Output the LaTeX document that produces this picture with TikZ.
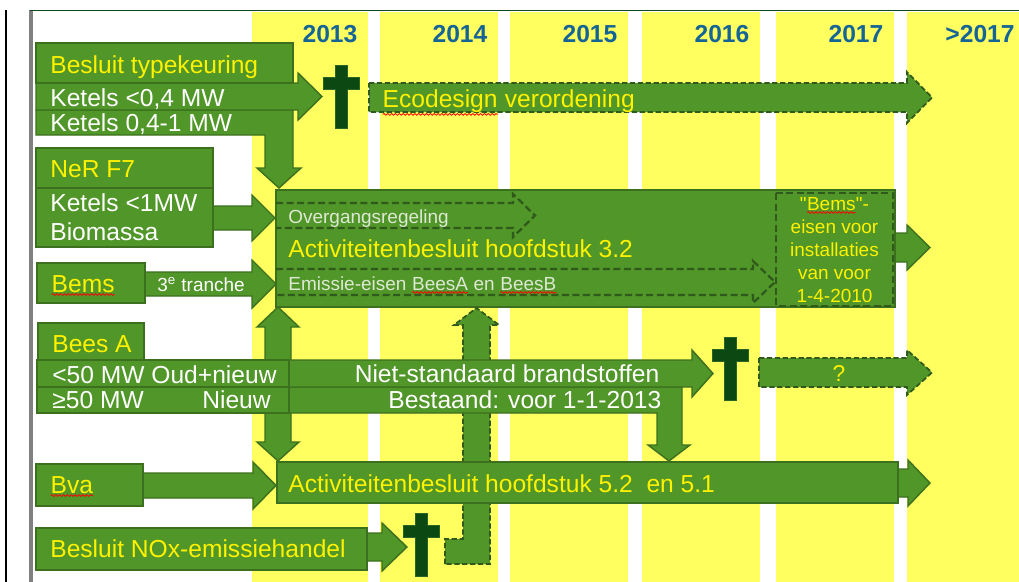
\documentclass[tikz,border=0pt]{standalone}
\usepackage{fontspec}
\setmainfont{Liberation Sans}
\usetikzlibrary{decorations.pathmorphing}

\definecolor{barGreen}{RGB}{80,150,40}
\definecolor{edgeGreen}{RGB}{60,112,30}
\definecolor{dashGreen}{RGB}{48,90,28}
\definecolor{crossGreen}{RGB}{12,72,18}
\definecolor{crossEdge}{RGB}{40,100,40}
\definecolor{colYellow}{RGB}{255,255,95}
\definecolor{yearBlue}{RGB}{20,100,150}
\definecolor{paleText}{RGB}{222,232,212}
\definecolor{frameGreen}{RGB}{20,70,30}

\tikzset{
	bar/.style={fill=barGreen, draw=edgeGreen, line width=0.8pt},
	dashbar/.style={fill=barGreen, draw=dashGreen, line width=1pt, dash pattern=on 3pt off 1.5pt},
	dashline/.style={draw=dashGreen, line width=1.3pt, dash pattern=on 4pt off 2pt},
	crossbar/.style={fill=crossGreen, draw=crossEdge, line width=0.5pt},
	txt/.style={anchor=base west, inner sep=0pt, font=\fontsize{14}{16}\selectfont},
	small/.style={anchor=base west, inner sep=0pt, font=\fontsize{10.8}{13}\selectfont},
	year/.style={anchor=base, inner sep=0pt, text=yearBlue, font=\fontsize{14}{16}\selectfont\bfseries},
	ylw/.style={text=yellow}, wht/.style={text=white}
}

% block arrows: [style]{x0}{ytop}{ybottom}{head base}{tip}{overhang}
\newcommand{\arrR}[7][bar]{\draw[#1] (#2,#3) -- (#5,#3) -- (#5,#3-#7) -- (#6,{(#3+#4)/2}) -- (#5,#4+#7) -- (#5,#4) -- (#2,#4) -- cycle;}
\newcommand{\arrOpen}[6]{\draw[dashline] (#1,#2) -- (#4,#2) -- (#4,#2-#6) -- (#5,{(#2+#3)/2}) -- (#4,#3+#6) -- (#4,#3) -- (#1,#3);}
\newcommand{\deadcross}[2]{\draw[crossbar] (#1-6,#2) -- (#1+6,#2) -- (#1+6,#2+12) -- (#1+18,#2+12) -- (#1+18,#2+24) -- (#1+6,#2+24) -- (#1+6,#2+63) -- (#1-6,#2+63) -- (#1-6,#2+24) -- (#1-18,#2+24) -- (#1-18,#2+12) -- (#1-6,#2+12) -- cycle;}
\newcommand{\spellerr}[1]{\tikz[baseline=(sw.base)]{\node[inner sep=0pt,outer sep=0pt](sw){#1};\draw[red,line width=0.45pt,decorate,decoration={snake,amplitude=0.5pt,segment length=2.2pt}]([yshift=-1.3pt]sw.south west)--([yshift=-1.3pt]sw.south east);}}

\begin{document}
\begin{tikzpicture}[x=0.02cm,y=-0.02cm]

	\useasboundingbox (0,0) rectangle (1019,582);
	\fill[white] (0,0) rectangle (1019,582);
	\foreach \a/\b in {252/368,380/498,510/628,642/760,776/894,907/1019}
		\fill[colYellow] (\a,12) rectangle (\b,582);
	\draw[black, line width=1.2pt] (6,10) -- (6,582);
	\draw[gray, line width=1.8pt] (31,10) -- (31,582);
	\draw[frameGreen, line width=0.8pt] (30,10.5) -- (1019,10.5);

	\node[year] (y13) at (330,42) {2013};
	\node[year] (y14) at (460,42) {2014};
	\node[year] (y15) at (590,42) {2015};
	\node[year] (y16) at (722,42) {2016};
	\node[year] (y17) at (856,42) {2017};
	\node[year] (y18) at (980,42) {>2017};

	% typekeuring
	\draw[bar] (36,110) -- (293,110) -- (293,168) -- (301,168) -- (279,188) -- (257,168) -- (265,168) -- (265,135) -- (36,135) -- cycle;
	\arrR{36}{83}{110}{298}{322}{10}
	\draw[bar] (36,43) rectangle (293,83);
	\node[txt,ylw] (tk) at (50,73) {Besluit typekeuring};
	\node[txt,wht] (k1) at (50,106) {Ketels <0,4 MW};
	\node[txt,wht] (k2) at (50,131) {Ketels 0,4-1 MW};
	\deadcross{341}{65}

	\arrR[dashbar]{369}{83}{112}{907}{932}{11}
	\node[txt,ylw] (eco) at (382,107) {\spellerr{Ecodesign} verordening};

	% hoofdstuk 3.2
	\arrR{880}{233}{262}{907}{930}{8}
	\draw[bar] (276,190) rectangle (895,307);
	\arrOpen{276}{203}{228}{513}{535}{9}
	\arrOpen{276}{269}{295}{753}{775}{8}
	\draw[dashline] (776,193) rectangle (893,306);
	\node[small,text=paleText] (ovg) at (288,223) {Overgangsregeling};
	\node[txt,ylw] (ab32) at (288,257) {Activiteitenbesluit hoofdstuk 3.2};
	\node[small,text=paleText] (em) at (288,290) {Emissie-eisen \spellerr{BeesA} en \spellerr{BeesB}};
	\foreach \ln [count=\i from 0] in {{\textquotedbl\spellerr{Bems}\textquotedbl-},eisen voor,installaties,van voor,1-4-2010}
		\node[small,anchor=base,ylw] (be\i) at (834.5,210+23*\i) {\ln};

	% NeR F7
	\arrR{200}{206}{230}{252}{275}{11}
	\draw[bar] (36,148) rectangle (213,188);
	\draw[bar] (36,188) rectangle (213,247);
	\node[txt,ylw] (ner) at (50,177) {NeR F7};
	\node[txt,wht] (k3) at (50,211) {Ketels <1MW};
	\node[txt,wht] (bio) at (50,240) {Biomassa};

	% Bems
	\arrR{130}{272}{296}{252}{276}{12}
	\draw[bar] (37,263) rectangle (145,303);
	\node[txt,ylw] (bems) at (51,292) {\spellerr{Bems}};
	\node[small,wht] (tr) at (157,291) {3\textsuperscript{e} tranche};

	\draw[bar] (265,327) -- (257,327) -- (278,307) -- (299,327) -- (291,327) -- (291,442) -- (299,442) -- (278,461) -- (257,442) -- (265,442) -- cycle;
	\draw[dashbar] (445,564) -- (445,539) -- (463,539) -- (463,325) -- (454,325) -- (476.5,308) -- (499,325) -- (490,325) -- (490,564) -- cycle;

	% Bees A
	\draw[bar] (289,387) -- (682,387) -- (682,445) -- (690,445) -- (669,461) -- (648,445) -- (657,445) -- (657,413) -- (289,413) -- cycle;
	\arrR{289}{360}{387}{692}{713}{10}
	\draw[bar] (38,323) rectangle (144,360);
	\draw[bar] (37,360) rectangle (289,387);
	\draw[bar] (37,387) rectangle (289,413);
	\node[txt,ylw] (bees) at (52,352) {Bees A};
	\node[txt,wht] (lt50) at (52,383) {<50 MW Oud+nieuw};
	\node[txt,wht] (ge50) at (52,408) {≥50 MW};
	\node[txt,wht,anchor=base east] (nw) at (271,408) {Nieuw};
	\node[txt,wht,anchor=base] (nsb) at (507,382) {Niet-standaard brandstoffen};
	\node[txt,wht] (best) at (388,408) {Bestaand: voor 1-1-2013};
	\deadcross{730.5}{337}

	\arrR[dashbar]{759}{358}{387}{907}{932}{8}
	\node[anchor=base, inner sep=0pt, font=\fontsize{13}{15}\selectfont, ylw] (q) at (839,381) {?};

	% hoofdstuk 5.2
	\arrR{880}{469}{497}{908}{930}{9}
	\draw[bar] (277,462) rectangle (898,503);
	\node[txt,ylw] (ab52) at (288,492) {Activiteitenbesluit hoofdstuk 5.2~~en 5.1};

	\arrR{130}{473}{498}{253}{276}{11}
	\draw[bar] (36,464) rectangle (143,506);
	\node[txt,ylw] (bva) at (50,493) {\spellerr{Bva}};

	\arrR{350}{533}{561}{382}{407}{10}
	\draw[bar] (36,528) rectangle (367,570);
	\node[txt,ylw] (nox) at (50,557) {Besluit NOx-emissiehandel};
	\deadcross{421.5}{513}

\end{tikzpicture}
\end{document}
